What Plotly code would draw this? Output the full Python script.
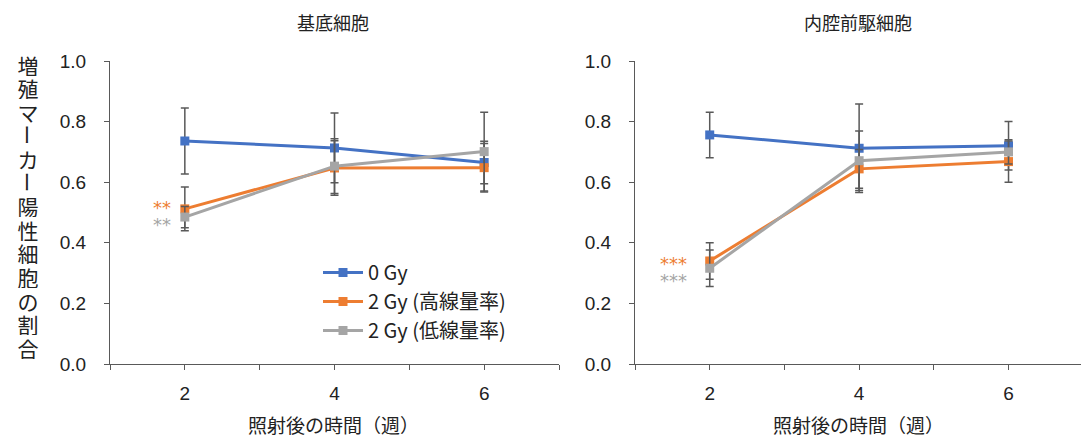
import plotly.graph_objects as go

# Weeks after irradiation
weeks = [2, 4, 6]
series_names = ["0 Gy", "2 Gy (高線量率)", "2 Gy (低線量率)"]
colors = ["#4472C4", "#ED7D31", "#A5A5A5"]

# Basal cells: mean fraction and SD
basal_0gy = [0.736, 0.713, 0.665]
basal_0gy_err = [0.109, 0.115, 0.070]
basal_high = [0.512, 0.647, 0.648]
basal_high_err = [0.072, 0.090, 0.080]
basal_low = [0.485, 0.653, 0.701]
basal_low_err = [0.035, 0.090, 0.130]

# Luminal progenitor cells: mean fraction and SD
lum_0gy = [0.756, 0.712, 0.720]
lum_0gy_err = [0.075, 0.146, 0.080]
lum_high = [0.340, 0.644, 0.668]
lum_high_err = [0.060, 0.064, 0.068]
lum_low = [0.316, 0.671, 0.700]
lum_low_err = [0.060, 0.098, 0.040]

panel_titles = ["基底細胞", "内腔前駆細胞"]
x_title = "照射後の時間（週）"
y_title = "増殖マーカー陽性細胞の割合"
y_ticks = [0.0, 0.2, 0.4, 0.6, 0.8, 1.0]

W, H = 1081, 438
M_T, M_B = 61, 74
PH = H - M_T - M_B

JP = "Noto Sans CJK JP"
NUM = "Liberation Sans, Noto Sans CJK JP"

fig = go.Figure()

panels = [
    ([basal_0gy, basal_high, basal_low], [basal_0gy_err, basal_high_err, basal_low_err], "x", "y"),
    ([lum_0gy, lum_high, lum_low], [lum_0gy_err, lum_high_err, lum_low_err], "x2", "y2"),
]
for p, (vals, errs, xa, ya) in enumerate(panels):
    for i in range(3):
        fig.add_trace(go.Scatter(
            x=weeks, y=vals[i], xaxis=xa, yaxis=ya,
            mode="lines+markers", name=series_names[i],
            showlegend=(p == 0),
            line=dict(color=colors[i], width=3),
            marker=dict(symbol="square", size=9, color=colors[i]),
            error_y=dict(type="data", array=errs[i], visible=True,
                         color="#595959", thickness=1.5, width=4),
        ))

axis_common = dict(
    showgrid=False, zeroline=False, showline=True, linecolor="#595959",
    linewidth=1, ticks="outside", ticklen=5, tickcolor="#595959",
    tickfont=dict(family=NUM, size=19, color="#222"), automargin=False,
)
xdom1 = [110 / W, 559 / W]
xdom2 = [635 / W, 1.0]
x_tickvals = [1, 2, 3, 4, 5, 6, 7]
x_ticktext = ["", "2", "", "4", "", "6", ""]

fig.update_layout(
    width=W, height=H,
    margin=dict(l=0, r=0, t=M_T, b=M_B),
    plot_bgcolor="white", paper_bgcolor="white",
    xaxis=dict(domain=xdom1, range=[1, 7], tickvals=x_tickvals, ticktext=x_ticktext,
               ticklabelstandoff=7, **axis_common),
    xaxis2=dict(domain=xdom2, range=[1, 6.97], tickvals=x_tickvals, ticktext=x_ticktext,
                anchor="y2", ticklabelstandoff=7, **axis_common),
    yaxis=dict(domain=[0, 1], range=[0, 1], tickvals=y_ticks,
               ticktext=[f"{v:.1f}" for v in y_ticks], ticklabelstandoff=14, **axis_common),
    yaxis2=dict(domain=[0, 1], range=[0, 1], tickvals=y_ticks, anchor="x2",
                ticktext=[f"{v:.1f}" for v in y_ticks], ticklabelstandoff=14, **axis_common),
    legend=dict(x=318 / W, y=(364 - 253) / PH, xanchor="left", yanchor="top",
                font=dict(family=JP, size=20, color="#222"),
                bgcolor="rgba(0,0,0,0)", itemwidth=40, tracegroupgap=0),
    showlegend=True,
)


def py(pix):
    return (H - M_B - pix) / PH


def txt(text, xpix, ypix, size, color="#222", family=JP, **kw):
    return dict(text=text, x=xpix / W, y=py(ypix), xref="paper", yref="paper",
                xanchor="center", yanchor="middle", showarrow=False,
                font=dict(family=family, size=size, color=color), **kw)


ann = []
# Panel titles and x-axis titles
ann.append(txt(panel_titles[0], 333, 22, 18))
ann.append(txt(panel_titles[1], 858, 22, 18))
ann.append(txt(x_title, 333, 424, 19, height=24))
ann.append(txt(x_title, 858, 424, 19, height=24))

# Vertical y-axis title, one character per line
for k, ch in enumerate(y_title):
    ann.append(txt(ch, 28, 64 + k * 23.6, 21, width=24, height=23,
                   textangle=90 if ch == "ー" else 0))

# Significance markers
sig = [("x", "y", 1.70, 0.515, "**", colors[1]),
       ("x", "y", 1.70, 0.459, "**", colors[2]),
       ("x2", "y2", 1.51, 0.333, "***", colors[1]),
       ("x2", "y2", 1.51, 0.277, "***", colors[2])]
for xr, yr, xv, yv, t, c in sig:
    ann.append(dict(text=t, x=xv, y=yv, xref=xr, yref=yr, showarrow=False,
                    xanchor="center", yanchor="middle",
                    font=dict(family="DejaVu Sans", size=18, color=c)))

fig.update_layout(annotations=ann)
fig.write_html("out.html")
